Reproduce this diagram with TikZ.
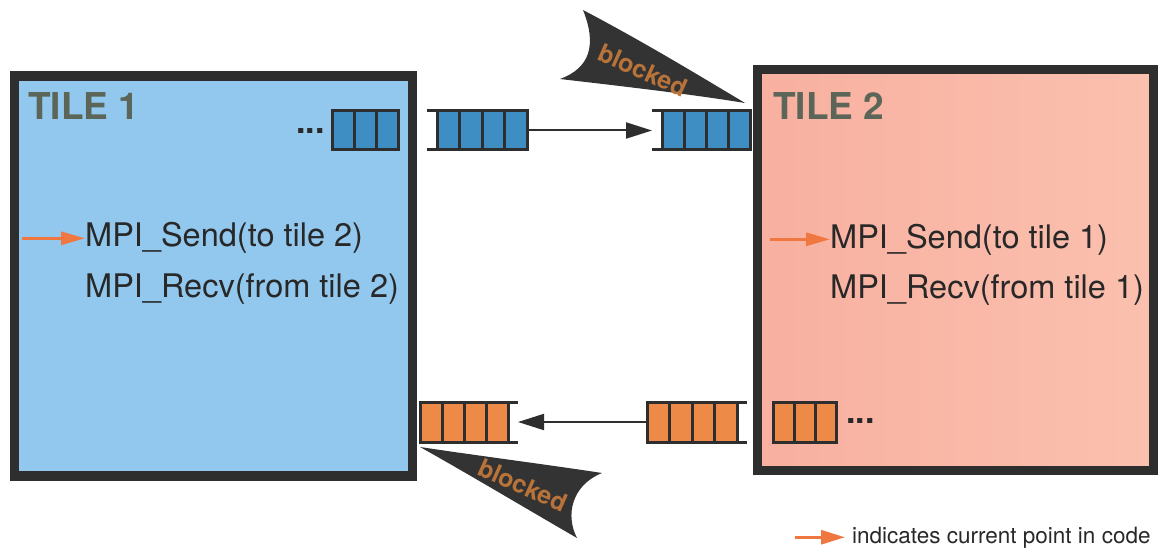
\documentclass[tikz,border=0pt]{standalone}
\usepackage{fontspec}
\setmainfont{TeX Gyre Heros}
\usetikzlibrary{arrows.meta}
\definecolor{tileblue}{RGB}{146,200,238}
\definecolor{pinkL}{RGB}{248,176,160}
\definecolor{pinkR}{RGB}{251,192,174}
\definecolor{edgec}{RGB}{46,46,46}
\definecolor{titlecol}{RGB}{92,102,88}
\definecolor{cellblue}{RGB}{62,142,196}
\definecolor{cellorange}{RGB}{238,138,72}
\definecolor{codeorange}{RGB}{240,120,64}
\definecolor{flagc}{RGB}{51,51,51}
\definecolor{blockcol}{RGB}{184,115,58}
\definecolor{txtc}{RGB}{40,40,40}
\begin{document}
\begin{tikzpicture}[x=1pt,y=-1pt,
  tile/.style={draw=edgec, line width=9.5pt, inner sep=0pt},
  title/.style={anchor=base west, inner sep=0pt, text=titlecol, font=\fontsize{37}{40}\selectfont\bfseries},
  code/.style={anchor=base west, inner sep=0pt, text=txtc, font=\fontsize{32.5}{36}\selectfont},
  dots/.style={anchor=base west, inner sep=0pt, text=txtc, font=\fontsize{34}{36}\selectfont\bfseries},
  qspan/.style={inner sep=0pt, outer sep=0pt},
  cell/.style={draw=edgec, line width=3pt},
  rail/.style={draw=edgec, line width=3pt},
  link/.style={draw=edgec, line width=2pt, -{Triangle[length=26pt,width=16pt]}},
  cur/.style={draw=codeorange, line width=3pt, -{Triangle[length=24pt,width=13pt]}},
  flag/.style={fill=flagc},
  blk/.style={text=blockcol, font=\fontsize{25}{28}\selectfont\bfseries, inner sep=0pt}
]
\useasboundingbox (0,0) rectangle (1162,548);

% tiles
\node[tile, fill=tileblue, minimum width=398pt, minimum height=400pt] (t1) at (213.5,276) {};
\node[tile, left color=pinkL, right color=pinkR, minimum width=396pt, minimum height=401pt] (t2) at (955.5,270) {};

\node[title] (t1title) at (28,120) {TILE 1};
\node[title] (t2title) at (773,120) {TILE 2};

% code lines
\node[code] (s1) at (85,247) {MPI\_Send(to tile 2)};
\node[code] (r1) at (85,297) {MPI\_Recv(from tile 2)};
\node[code] (s2) at (830,248) {MPI\_Send(to tile 1)};
\node[code] (r2) at (830,298) {MPI\_Recv(from tile 1)};
\coordinate (a1) at (22,0);
\coordinate (a2) at (770,0);
\draw[cur] (a1 |- s1.west) -- (s1.west);
\draw[cur] (a2 |- s2.west) -- (s2.west);

% queue A (inside tile 1)
\foreach \i in {0,1,2} {
  \filldraw[cell, fill=cellblue] (332+22*\i,111) rectangle (354+22*\i,150);
}
\node[dots] (dA) at (296,134) {...};

% queue B (send, top)
\node[qspan, minimum width=100pt, minimum height=39pt] (qB) at (477,130.5) {};
\foreach \i in {0,1,2,3} {
  \filldraw[cell, fill=cellblue] (437+22.5*\i,111) rectangle (459.5+22.5*\i,150);
}
\draw[rail] (qB.north west) -- (qB.north east);
\draw[rail] (qB.south west) -- (qB.south east);

% queue C (receive, top)
\node[qspan, minimum width=98pt, minimum height=39pt] (qC) at (701,130.5) {};
\foreach \i in {0,1,2,3} {
  \filldraw[cell, fill=cellblue] (662+22*\i,111) rectangle (684+22*\i,150);
}
\draw[rail] (qC.north west) -- (qC.north east);
\draw[rail] (qC.south west) -- (qC.south east);

% queue D (receive, bottom)
\node[qspan, minimum width=98pt, minimum height=40pt] (qD) at (469,422) {};
\foreach \i in {0,1,2,3} {
  \filldraw[cell, fill=cellorange] (420+22*\i,402) rectangle (442+22*\i,442);
}
\draw[rail] (qD.north west) -- (qD.north east);
\draw[rail] (qD.south west) -- (qD.south east);

% queue E (send, bottom)
\node[qspan, minimum width=100pt, minimum height=40pt] (qE) at (697,422) {};
\foreach \i in {0,1,2,3} {
  \filldraw[cell, fill=cellorange] (647+22.5*\i,402) rectangle (669.5+22.5*\i,442);
}
\draw[rail] (qE.north west) -- (qE.north east);
\draw[rail] (qE.south west) -- (qE.south east);

% queue F (inside tile 2)
\foreach \i in {0,1,2} {
  \filldraw[cell, fill=cellorange] (773+21.3*\i,402) rectangle (794.3+21.3*\i,442);
}
\node[dots] (dF) at (846,423) {...};

% links
\draw[link] (qB.east) -- (qC.west);
\draw[link] (qE.west) -- (qD.east);

% blocked flags
\fill[flag] (583,10) .. controls (597,45) and (590,68) .. (560,79)
  .. controls (620,86) and (690,94) .. (745,103)
  .. controls (690,70) and (640,40) .. cycle;
\node[blk, rotate=-24] (b1) at (643,70) {blocked};

\fill[flag] (420,447) .. controls (480,456) and (550,465) .. (602,473)
  .. controls (572,485) and (565,515) .. (577,538)
  .. controls (520,505) and (470,475) .. cycle;
\node[blk, rotate=-24] (b2) at (523,485) {blocked};

% legend
\node[anchor=base west, inner sep=0pt, text=txtc, font=\fontsize{22.5}{25}\selectfont] (leg) at (852,543) {indicates current point in code};
\coordinate (la) at (795,0);
\draw[cur, -{Triangle[length=24pt,width=14pt]}] (la |- leg.west) -- ([xshift=-7pt]leg.west);
\end{tikzpicture}
\end{document}
